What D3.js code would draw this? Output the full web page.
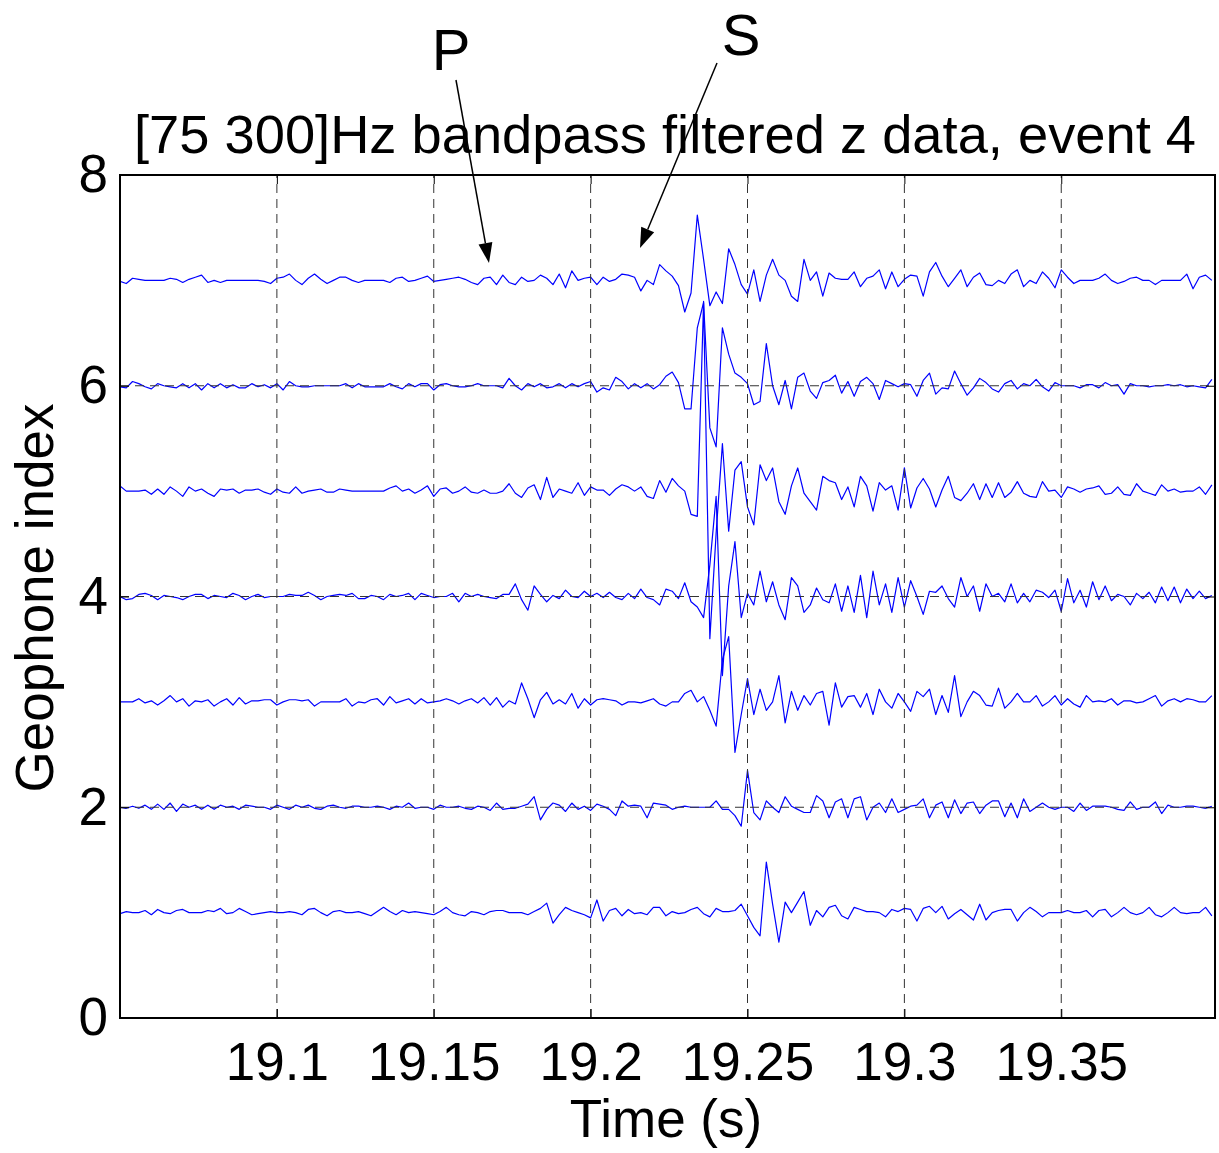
<!DOCTYPE html>
<html><head><meta charset="utf-8">
<script src="https://cdn.jsdelivr.net/npm/d3@7"></script>
<style>body{margin:0;background:#fff}</style>
</head><body><svg id="c" width="1219" height="1153"></svg>
<script>
// ---- data (amplitudes in hundredths of a trace unit, offset by geophone index) ----
const sampleStart = 19.05, sampleStep = 0.002;
const geophones = [1, 2, 3, 4, 5, 6, 7];
const trace1 = [-1,1,0,0,2,-2,3,0,-1,2, 3,0,0,0,2,1,4,-1,0,4, 1,-2,-1,0,1,0,0,1,0,-2, 3,4,0,-3,1,2,0,0,1,-1, -3,1,5,1,-2,2,0,1,0,-1, -2,1,5,0,-2,-3,1,0,-2,1, 2,2,0,0,0,-2,1,4,9,-10, -2,5,2,0,-2,-5,12,-8,2,4, -3,3,-1,0,-2,5,5,-3,1,-1, 0,3,5,-1,-4,4,1,1,2,8, -3,-14,-22,48,8,-28,10,0,10,20, -12,2,-4,5,7,-3,-6,5,3,1, 1,0,-4,3,1,4,3,-8,4,6, 0,6,-6,-1,3,-2,-7,8,-7,0, 2,3,3,-8,0,5,1,-4,0,0, 0,2,0,0,2,-4,2,3,-4,0, 5,0,-2,0,5,-2,-4,0,5,0, -1,0,0,5,-3];
const trace2 = [0,-1,1,-1,2,-2,3,-2,4,-4, 3,0,2,-2,2,-2,2,0,1,-2, 2,1,0,0,-2,2,0,-2,2,0, 2,-1,-2,1,2,0,-1,1,1,0, 0,1,0,-2,1,0,4,-1,0,0, -2,2,0,0,1,-1,-2,1,0,-3, 4,-2,-1,-1,1,3,10,-12,-2,4, 2,-4,4,-2,1,-3,3,1,-2,-8, 6,1,2,1,-10,4,3,2,-2,0, 1,0,0,0,0,6,-2,-2,-8,-18, 35,-5,-12,6,0,-5,10,1,-2,-5, -5,11,6,-10,5,8,-10,8,10,-12, 0,4,-5,8,-5,-2,1,2,8,-10, 2,5,-10,7,-6,4,5,-6,2,6, 6,-9,4,-10,8,-4,0,4,0,-2, 0,0,-4,4,-3,1,1,1,0,-2, -3,5,-2,0,0,5,-6,2,0,0, 1,1,0,-1,1];
const trace3 = [0,0,0,3,-1,1,-3,1,6,0, 3,-4,1,0,2,-4,0,3,-3,4, -2,1,1,2,2,-3,0,2,2,1, 2,-4,0,0,0,0,3,-4,0,-1, 2,3,-3,5,-1,1,3,-2,3,-1, 0,1,3,1,-2,1,3,-1,4,-3, 4,-5,1,-2,18,3,-15,2,9,-2, 2,-2,8,-6,3,-3,2,3,2,1, -3,0,0,-1,1,3,-2,-4,0,0, 8,11,0,5,-8,-23,40,62,-48,-12, 22,-12,12,-8,0,25,-20,10,-8,6, -3,8,10,-22,18,-5,5,6,-5,8, -12,12,0,-6,8,0,-9,10,5,12, -12,6,-10,25,-14,0,10,6,-3,-4, 13,-6,0,8,0,0,6,-4,0,6, -3,3,-2,-5,6,0,1,0,3,-3, 1,1,-1,0,3,6,-4,1,3,0, 3,2,0,0,6];
const trace4 = [0,-3,-2,2,3,1,-3,1,0,-1, -3,0,2,2,-2,1,0,-1,3,1, -3,0,2,-1,0,0,0,2,1,1, 4,1,-3,0,1,2,1,3,-2,-2, 1,0,-3,2,0,1,3,-3,3,1, -1,0,0,3,-5,3,0,2,0,-1, -2,2,2,12,-3,-13,10,2,-5,1, -2,6,0,-1,5,0,3,-1,4,-1, -3,3,-2,7,-1,-3,-8,7,5,-2, 13,-5,-10,-20,30,95,-75,10,52,-20, 3,-8,24,-5,14,-8,-22,18,10,-15, -8,8,-3,-6,12,-14,10,-15,20,-20, 24,-8,12,-15,18,-10,15,0,-17,5, 4,10,-2,-10,18,0,10,-14,12,0, 3,-5,12,-6,3,-5,6,4,-1,6, -14,17,-6,6,-10,14,-3,10,-4,2, 0,-8,3,-2,4,-6,9,-4,9,-6, 7,-2,5,-2,1];
const trace5 = [5,0,0,0,1,-3,2,-3,4,0, -5,4,0,2,-2,-5,2,1,2,-2, 1,1,2,-1,-3,2,-1,-2,4,-2, 0,1,2,-1,-1,2,1,0,0,0, 0,0,0,3,5,0,2,-2,1,5, -5,2,3,-2,0,4,-1,-2,1,-2, -2,0,7,-2,-6,3,6,-8,13,-6, 2,0,-2,8,-4,4,1,1,-4,2, 6,4,0,4,-5,-7,10,-1,12,5, 0,-22,-24,180,-140,-40,45,-38,20,28, -15,-32,25,10,22,-10,-22,5,22,-2, -10,-18,14,10,8,-8,4,-15,14,5, -19,8,1,5,-18,22,-16,3,12,2, -15,1,14,-6,-9,-2,7,-8,7,-6, 8,-6,-1,9,-2,-5,-6,9,0,1, -6,4,2,-1,2,3,5,-3,-2,4, -3,-4,7,0,-2,-4,6,0,2,-1, 0,0,4,-3,6];
const trace6 = [-1,-2,4,2,-1,-3,2,0,-1,-2, 2,-2,2,-4,2,-2,2,-2,1,-2, -2,2,-1,1,-2,2,-4,4,0,-1, -1,0,0,0,0,0,2,-2,2,-1, -1,-1,-1,2,-1,-3,2,-1,2,2, -4,1,2,0,-1,-1,0,2,0,0, 0,-2,7,0,-4,2,-1,2,-2,-1, 2,-2,2,-1,2,4,-6,-2,-4,8, 4,-3,2,-2,2,-3,1,9,13,3, -22,-22,55,79,-40,-58,55,30,12,8, 2,-18,-15,40,0,-18,5,-22,8,12, -5,-12,3,5,10,-7,4,-10,4,8, 2,-13,5,2,-1,2,1,-10,5,12, -8,-2,-3,14,2,-9,-2,7,3,-3, -6,2,5,-3,2,0,6,-1,-5,3, 0,0,0,-2,1,1,-2,3,0,1, -8,2,0,0,-1,0,0,1,0,1, -1,0,-1,-2,6];
const trace7 = [-1,-3,2,1,0,0,0,0,2,1, -2,1,3,5,-2,0,-2,0,0,0, 0,0,0,-1,-3,2,3,6,0,-4, 2,6,1,-3,0,3,3,0,-2,0, 0,0,0,-2,2,3,-1,0,2,4, -1,0,1,2,3,1,-2,-4,2,3, -4,5,-2,-4,3,-1,0,5,2,-4, 6,-7,9,0,2,3,-4,3,-1,1, 6,5,3,-10,0,-4,15,9,4,-5, -30,-12,62,20,-24,-11,-22,30,15,-4, -13,10,-20,5,20,5,0,-15,-20,20, 0,8,-15,7,2,1,1,8,-6,2, 4,10,-8,8,-6,1,5,4,-15,8, 17,4,-6,2,10,-6,3,7,-4,-5, 0,-3,6,10,-6,0,-3,8,2,-7, 10,3,-3,0,0,0,2,6,0,-3, -1,2,3,0,0,-4,0,0,0,0, 6,-8,3,5,0];
const traces = [trace1, trace2, trace3, trace4, trace5, trace6, trace7];
const xTicks = [19.1, 19.15, 19.2, 19.25, 19.3, 19.35];
const xTickLabels = ["19.1", "19.15", "19.2", "19.25", "19.3", "19.35"];
const yTicks = [0, 2, 4, 6, 8];
const yGrid = [2, 4, 6];
const titleText = "[75 300]Hz bandpass filtered z data, event 4";
const xLabel = "Time (s)", yLabel = "Geophone index";
const xDomain = [19.05, 19.399], yDomain = [0, 8];

// ---- drawing ----
const svg = d3.select("#c");
const L = 120, R = 1215, T = 175, B = 1018;
const x = d3.scaleLinear().domain(xDomain).range([L, R]);
const y = d3.scaleLinear().domain(yDomain).range([B, T]);
const font = "'Liberation Sans', Arial, Helvetica, sans-serif";

svg.append("rect").attr("width", 1219).attr("height", 1153).attr("fill", "#fff");
svg.append("defs").append("clipPath").attr("id", "clip")
  .append("rect").attr("x", L).attr("y", T).attr("width", R - L).attr("height", B - T);

// traces
const line = d3.line()
  .x((d, i) => x(sampleStart + i * sampleStep))
  .y(d => d);
const plot = svg.append("g").attr("clip-path", "url(#clip)");
traces.forEach((tr, k) => {
  const base = geophones[k];
  plot.append("path")
    .attr("d", line(tr.map(v => y(base + v / 100))))
    .attr("fill", "none").attr("stroke", "#0000ff").attr("stroke-width", 1.2)
    .attr("stroke-linejoin", "round");
});

// grid (drawn on top, as in the reference)
const grid = svg.append("g").attr("stroke", "#333").attr("stroke-width", 1).attr("stroke-dasharray", "9,6");
xTicks.forEach(t => grid.append("line").attr("x1", x(t)).attr("x2", x(t)).attr("y1", B).attr("y2", T));
yGrid.forEach(v => grid.append("line").attr("x1", L).attr("x2", R).attr("y1", y(v)).attr("y2", y(v)));

// axes with d3 axis generators (ticks inward)
const tk = 9;
const xAxisB = d3.axisBottom(x).tickValues(xTicks).tickFormat((d, i) => xTickLabels[i]).tickSize(-tk).tickPadding(24);
const gxb = svg.append("g").attr("transform", `translate(0,${B})`).call(xAxisB);
gxb.select(".domain").remove();
gxb.selectAll("text").attr("font-size", 53).attr("font-family", font).attr("fill", "#000").attr("dy", "0.71em");
gxb.selectAll("line").attr("stroke", "#000");
const gxt = svg.append("g").attr("transform", `translate(0,${T})`).call(d3.axisTop(x).tickValues(xTicks).tickSize(-tk).tickFormat(""));
gxt.select(".domain").remove(); gxt.selectAll("line").attr("stroke", "#000");

const yAxisL = d3.axisLeft(y).tickValues(yTicks).tickFormat(d3.format("d")).tickSize(-tk).tickPadding(12);
const gyl = svg.append("g").attr("transform", `translate(${L},0)`).call(yAxisL);
gyl.select(".domain").remove();
gyl.selectAll("text").attr("font-size", 53).attr("font-family", font).attr("fill", "#000");
gyl.selectAll("line").attr("stroke", "#000");
const gyr = svg.append("g").attr("transform", `translate(${R},0)`).call(d3.axisRight(y).tickValues(yTicks).tickSize(-tk).tickFormat(""));
gyr.select(".domain").remove(); gyr.selectAll("line").attr("stroke", "#000");

// box
svg.append("rect").attr("x", L).attr("y", T).attr("width", R - L).attr("height", B - T)
  .attr("fill", "none").attr("stroke", "#000").attr("stroke-width", 2);

// labels
svg.append("text").attr("x", 665).attr("y", 153).attr("text-anchor", "middle")
  .attr("font-family", font).attr("font-size", 53).attr("textLength", 1062).attr("lengthAdjust", "spacingAndGlyphs")
  .text(titleText);
svg.append("text").attr("x", 666).attr("y", 1137).attr("text-anchor", "middle")
  .attr("font-family", font).attr("font-size", 53).text(xLabel);
svg.append("text").attr("transform", "translate(53,598) rotate(-90)").attr("text-anchor", "middle")
  .attr("font-family", font).attr("font-size", 53).text(yLabel);

// P and S annotations with arrows
const notes = [
  {label: "P", tx: 451, ty: 70, x1: 456, y1: 80, x2: 489, y2: 263},
  {label: "S", tx: 741, ty: 55, x1: 717, y1: 63, x2: 640, y2: 248}
];
notes.forEach(n => {
  svg.append("text").attr("x", n.tx).attr("y", n.ty).attr("text-anchor", "middle")
    .attr("font-family", font).attr("font-size", 58).text(n.label);
  const ang = Math.atan2(n.y2 - n.y1, n.x2 - n.x1);
  const hl = 20, hw = 7;
  const bx = n.x2 - hl * Math.cos(ang), by = n.y2 - hl * Math.sin(ang);
  svg.append("line").attr("x1", n.x1).attr("y1", n.y1).attr("x2", bx).attr("y2", by)
    .attr("stroke", "#000").attr("stroke-width", 1.5);
  const px = -Math.sin(ang) * hw, py = Math.cos(ang) * hw;
  svg.append("path").attr("d", `M${n.x2},${n.y2}L${bx + px},${by + py}L${bx - px},${by - py}Z`).attr("fill", "#000");
});
</script></body></html>
